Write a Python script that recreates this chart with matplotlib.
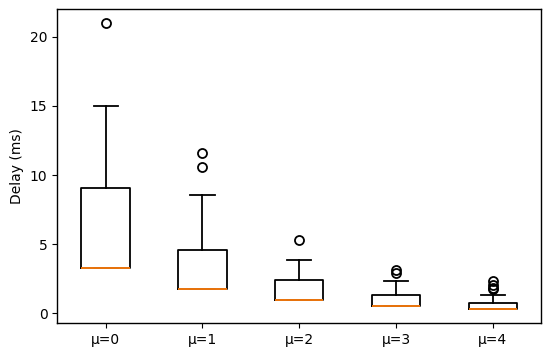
import matplotlib
matplotlib.use("Agg")
import matplotlib.pyplot as plt

labels = ["μ=0", "μ=1", "μ=2", "μ=3", "μ=4"]
q1 = [3.28, 1.72, 0.92, 0.49, 0.31]
med = [3.28, 1.72, 0.92, 0.49, 0.31]
q3 = [9.03, 4.57, 2.37, 1.33, 0.72]
whislo = [3.28, 1.72, 0.92, 0.49, 0.31]
whishi = [15.0, 8.57, 3.84, 2.34, 1.33]
fliers = [[21.0], [11.57, 10.6], [5.31], [3.09, 2.87], [2.31, 2.05, 1.85, 1.72]]

stats = []
for i in range(len(labels)):
    stats.append(dict(label=labels[i], q1=q1[i], med=med[i], q3=q3[i],
                      whislo=whislo[i], whishi=whishi[i], fliers=fliers[i]))

lw = 1.3
fig = plt.figure(figsize=(5.5, 3.55), dpi=100)
ax = fig.add_axes([0.104, 0.09, 0.88, 0.885])
ax.bxp(stats,
       boxprops=dict(linewidth=lw),
       whiskerprops=dict(linewidth=lw),
       capprops=dict(linewidth=lw),
       medianprops=dict(linewidth=lw, color="#ff7f0e", zorder=5),
       flierprops=dict(marker="o", markersize=6.5, markeredgewidth=lw,
                       markerfacecolor="none", markeredgecolor="black"))
for s in ax.spines.values():
    s.set_linewidth(1.0)
ax.set_ylabel("Delay (ms)")
fig.savefig("out.png", dpi=100)
